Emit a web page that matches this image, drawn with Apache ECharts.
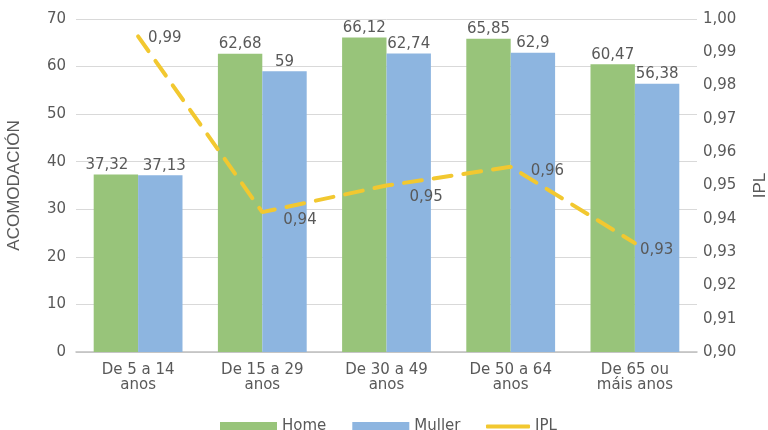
<!DOCTYPE html>
<html>
<head>
<meta charset="utf-8">
<script src="https://cdn.jsdelivr.net/npm/echarts@6/dist/echarts.min.js"></script>
<style>
  html, body { margin: 0; padding: 0; background: #ffffff; }
  #chart { width: 768px; height: 430px; }
</style>
</head>
<body>
<div id="chart"></div>
<script>
// Age groups on the x axis
const categories = ['De 5 a 14\nanos', 'De 15 a 29\nanos', 'De 30 a 49\nanos', 'De 50 a 64\nanos', 'De 65 ou\nmáis anos'];
// Bars (left axis)
const homeValues = [37.32, 62.68, 66.12, 65.85, 60.47];
const mullerValues = [37.13, 59, 62.74, 62.9, 56.38];
// IPL line (right axis)
const iplValues = [0.9948, 0.942, 0.950, 0.9556, 0.9327];
// Right axis range
const iplMin = 0.90, iplMax = 1.00, iplStep = 0.01;

const TEXT = '#595959';
const FONT = 'DejaVu Sans';
const NAME_FONT = 'Liberation Sans';
const YELLOW = '#F2C830';
const comma = v => String(v).replace('.', ',');

// Label nudges [dx, dy] so neighbouring labels do not collide
const homeLabelNudge = [[-9, 0], [0, 0], [0, 0], [0, 0], [0, 0]];
const mullerLabelNudge = [[4, 0], [0, 0], [0, 0], [0, 0], [0, 0]];
const iplLabelNudge = [[0, 2], [11, 8], [13, 12], [10, 4], [-5, 7]];

const withNudge = (values, nudges) =>
  values.map((v, i) => ({ value: v, label: { offset: nudges[i] } }));

const chart = echarts.init(document.getElementById('chart'), null, { renderer: 'canvas' });

chart.setOption({
  animation: false,
  textStyle: { fontFamily: FONT, color: TEXT },
  grid: { left: 76, right: 71, top: 19, bottom: 78, containLabel: false, outerBoundsMode: 'none' },
  legend: [
    {
      data: ['Home', 'Muller'],
      left: 215, top: 414,
      itemWidth: 57, itemHeight: 9, itemGap: 26,
      icon: 'rect',
      textStyle: { fontFamily: FONT, fontSize: 15, color: TEXT }
    },
    {
      data: [{ name: 'IPL', icon: 'roundRect', itemStyle: { color: YELLOW } }],
      left: 481, top: 414,
      itemWidth: 44, itemHeight: 4,
      textStyle: { fontFamily: FONT, fontSize: 15, color: TEXT }
    }
  ],
  xAxis: {
    type: 'category',
    data: categories,
    axisTick: { show: false },
    axisLine: { lineStyle: { color: '#BFBFBF', width: 1.5 } },
    axisLabel: { color: TEXT, fontFamily: FONT, fontSize: 15, lineHeight: 15, margin: 11, interval: 0 }
  },
  yAxis: [
    {
      type: 'value', min: 0, max: 70, interval: 10,
      name: 'ACOMODACIÓN', nameLocation: 'middle', nameRotate: 90, nameGap: 53,
      nameTextStyle: { color: TEXT, fontFamily: NAME_FONT, fontSize: 17 },
      axisLine: { show: false }, axisTick: { show: false },
      axisLabel: { color: TEXT, fontFamily: FONT, fontSize: 15, margin: 10 },
      splitLine: { lineStyle: { color: '#D9D9D9', width: 1 } }
    },
    {
      type: 'value', min: iplMin, max: iplMax, interval: iplStep,
      name: 'IPL', nameLocation: 'middle', nameRotate: 90, nameGap: 55,
      nameTextStyle: { color: TEXT, fontFamily: NAME_FONT, fontSize: 17 },
      axisLine: { show: false }, axisTick: { show: false },
      axisLabel: { color: TEXT, fontFamily: FONT, fontSize: 15, margin: 6,
        formatter: v => v.toFixed(2).replace('.', ',') },
      splitLine: { show: false }
    }
  ],
  series: [
    {
      name: 'Home', type: 'bar', data: withNudge(homeValues, homeLabelNudge),
      barGap: '0%', barCategoryGap: '28.5%',
      itemStyle: { color: '#98C47A' },
      label: { show: true, position: 'top', distance: 2, color: TEXT, fontFamily: FONT, fontSize: 15,
        formatter: p => comma(p.value) }
    },
    {
      name: 'Muller', type: 'bar', data: withNudge(mullerValues, mullerLabelNudge),
      itemStyle: { color: '#8DB5E0' },
      label: { show: true, position: 'top', distance: 2, color: TEXT, fontFamily: FONT, fontSize: 15,
        formatter: p => comma(p.value) }
    },
    {
      name: 'IPL', type: 'line', yAxisIndex: 1, data: withNudge(iplValues, iplLabelNudge),
      symbol: 'circle', symbolSize: 0, showSymbol: true, z: 5,
      itemStyle: { color: YELLOW },
      lineStyle: { color: YELLOW, width: 4, type: [18, 12], cap: 'round' },
      label: { show: true, position: 'right', distance: 10, color: TEXT, fontFamily: FONT, fontSize: 15,
        formatter: p => p.value.toFixed(2).replace('.', ',') }
    }
  ]
});
</script>
</body>
</html>
